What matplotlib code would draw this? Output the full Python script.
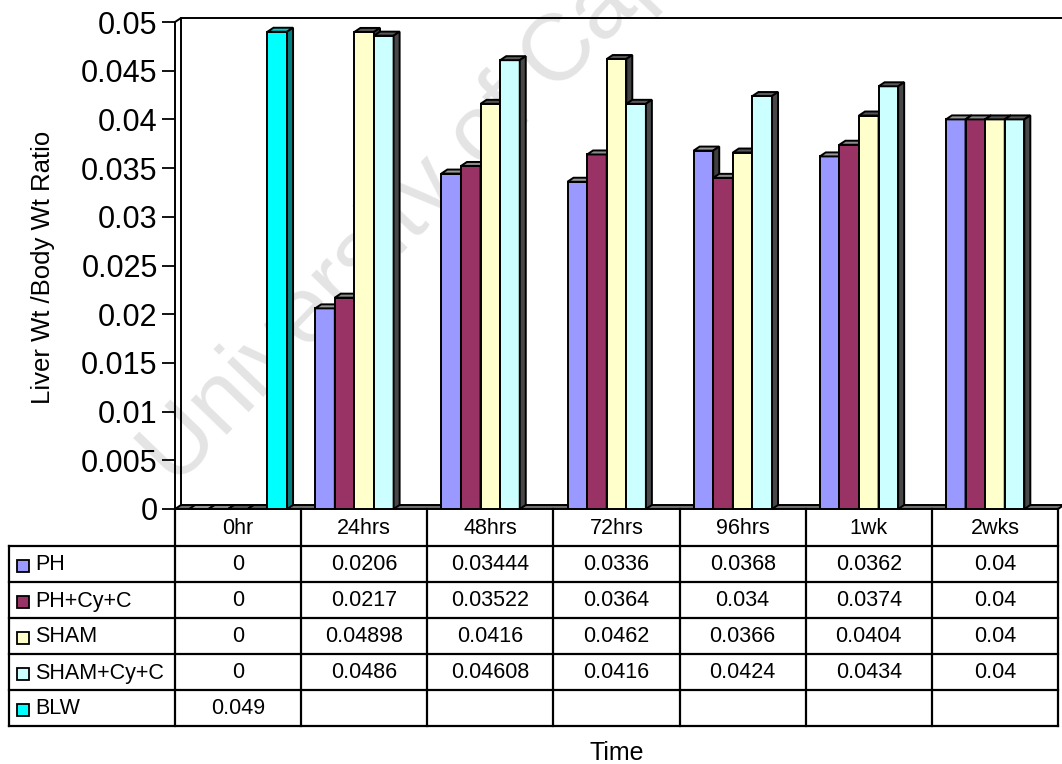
import matplotlib
matplotlib.use('Agg')
import matplotlib.pyplot as plt
from matplotlib.patches import Polygon

plt.rcParams['font.family'] = ['Liberation Sans', 'DejaVu Sans']

# 肝重/体重比数据
categories = ['0hr', '24hrs', '48hrs', '72hrs', '96hrs', '1wk', '2wks']
ph = [0, 0.0206, 0.03444, 0.0336, 0.0368, 0.0362, 0.04]
ph_cy_c = [0, 0.0217, 0.03522, 0.0364, 0.034, 0.0374, 0.04]
sham = [0, 0.04898, 0.0416, 0.0462, 0.0366, 0.0404, 0.04]
sham_cy_c = [0, 0.0486, 0.04608, 0.0416, 0.0424, 0.0434, 0.04]
blw = [0.049, None, None, None, None, None, None]

series_names = ['PH', 'PH+Cy+C', 'SHAM', 'SHAM+Cy+C', 'BLW']
series_values = [ph, ph_cy_c, sham, sham_cy_c, blw]
front_colors = ['#9999FF', '#993366', '#FFFFCC', '#CCFFFF', '#00FFFF']
top_colors = ['#999999', '#8c8c8c', '#555555', '#5a5a5a', '#00CCCC']
side_colors = ['#404040', '#404040', '#404040', '#484848', '#008080']

W, H = 1062, 764
fig = plt.figure(figsize=(W / 100, H / 100), dpi=100)

# 绘图区（像素位置）
ax_left, ax_right, ax_top, ax_bottom = 175, 1058, 22, 509
ax = fig.add_axes([ax_left / W, 1 - ax_bottom / H,
                   (ax_right - ax_left) / W, (ax_bottom - ax_top) / H])
ncat = len(categories)
ymax = 0.05
ax.set_xlim(0, ncat)
ax.set_ylim(0, ymax)

px_x = (ax_right - ax_left) / ncat
px_y = (ax_bottom - ax_top) / ymax
ddx = 6 / px_x      # 3D 深度（x方向）
ddy = 4 / px_y      # 3D 深度（y方向）
bw = 19.6 / px_x    # 柱宽
lw = 1.4

# 水印
ax.text(176 / W, 1 - 488 / H, 'University of Cape Town', transform=fig.transFigure,
        rotation=46, rotation_mode='anchor', ha='left', va='baseline',
        fontsize=68, color='#e4e4e4', zorder=0.5, clip_on=False)

# 底面
floor = Polygon([(0, 0), (ncat, 0), (ncat + ddx, ddy), (ddx, ddy)], closed=True,
                facecolor='#707070', edgecolor='black', linewidth=lw, zorder=2, clip_on=False)
ax.add_patch(floor)

# 左侧墙和背墙上沿
ax.plot([0, 0, ddx, ddx], [0, ymax, ymax + ddy, ddy], color='black', lw=lw,
        zorder=2, clip_on=False, solid_joinstyle='miter')
ax.plot([ddx, ncat + 0.1], [ymax + ddy, ymax + ddy], color='black', lw=lw,
        zorder=2, clip_on=False)

for j, (vals, fc, tc, sc) in enumerate(zip(series_values, front_colors, top_colors, side_colors)):
    z = 3 + j * 0.1
    xs = [i + 0.5 + (j - 2) * bw for i, v in enumerate(vals) if v is not None]
    hs = [v for v in vals if v is not None]
    ax.bar(xs, hs, width=bw, color=fc, edgecolor='black', linewidth=lw, zorder=z)
    for x, h in zip(xs, hs):
        x0, x1 = x - bw / 2, x + bw / 2
        top = Polygon([(x0, h), (x1, h), (x1 + ddx, h + ddy), (x0 + ddx, h + ddy)],
                      closed=True, facecolor=tc, edgecolor='black', linewidth=lw,
                      zorder=z + 0.05, clip_on=False)
        side = Polygon([(x1, 0), (x1 + ddx, ddy), (x1 + ddx, h + ddy), (x1, h)],
                       closed=True, facecolor=sc, edgecolor='black', linewidth=lw,
                       zorder=z + 0.05, clip_on=False)
        ax.add_patch(top)
        ax.add_patch(side)

ax.patch.set_visible(False)
for s in ['top', 'right', 'bottom', 'left']:
    ax.spines[s].set_visible(False)
ax.set_xticks([])
yt = [k * 0.005 for k in range(11)]
ax.set_yticks(yt)
ax.set_yticklabels([f'{v:g}' for v in yt])
ax.tick_params(axis='y', direction='out', length=9.5, width=1.3, pad=3,
               labelsize=22, color='black')

fig.text(43 / W, 1 - 267 / H, 'Liver Wt /Body Wt Ratio', rotation=90,
         ha='center', va='center', fontsize=18.5)
fig.text(617 / W, 1 - 753 / H, 'Time', ha='center', va='center', fontsize=18)

# 数据表
tab = fig.add_axes([0, 0, 1, 1])
tab.set_xlim(0, W)
tab.set_ylim(H, 0)
tab.axis('off')
tab.patch.set_visible(False)

tbl_left = 9
row_top = 546
row_h = 36
col_edges = [ax_left + k * px_x for k in range(ncat + 1)]
row_edges = [row_top + r * row_h for r in range(len(series_names) + 1)]
tl = dict(color='black', lw=1.6)
for y in row_edges:
    tab.plot([tbl_left, col_edges[-1]], [y, y], **tl)
tab.plot([tbl_left, tbl_left], [row_edges[0], row_edges[-1]], **tl)
for x in col_edges:
    tab.plot([x, x], [ax_bottom, row_edges[-1]], **tl)

fs = 15.5
for k, cat in enumerate(categories):
    cx = (col_edges[k] + col_edges[k + 1]) / 2
    tab.text(cx, (ax_bottom + row_top) / 2 + 1, cat, ha='center', va='center', fontsize=fs)

for r, (name, vals, fc) in enumerate(zip(series_names, series_values, front_colors)):
    cy = (row_edges[r] + row_edges[r + 1]) / 2
    tab.add_patch(plt.Rectangle((17, cy - 4), 12, 12, facecolor=fc,
                                edgecolor='black', linewidth=1.3))
    tab.text(35, cy + 1, name, ha='left', va='center', fontsize=fs)
    for k, v in enumerate(vals):
        if v is None:
            continue
        cx = (col_edges[k] + col_edges[k + 1]) / 2
        tab.text(cx, cy, f'{v:g}', ha='center', va='center', fontsize=fs)

fig.savefig('out.png', dpi=100)
